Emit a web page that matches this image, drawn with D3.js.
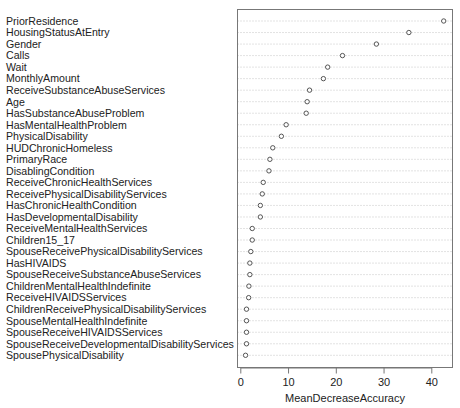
<!DOCTYPE html>
<html>
<head>
<meta charset="utf-8">
<script src="https://cdn.jsdelivr.net/npm/d3@7"></script>
<style>
  body { margin: 0; background: #fff; }
</style>
</head>
<body>
<div id="chart"></div>
<script>
const variables = [
  "PriorResidence", "HousingStatusAtEntry", "Gender", "Calls", "Wait",
  "MonthlyAmount", "ReceiveSubstanceAbuseServices", "Age",
  "HasSubstanceAbuseProblem", "HasMentalHealthProblem", "PhysicalDisability",
  "HUDChronicHomeless", "PrimaryRace", "DisablingCondition",
  "ReceiveChronicHealthServices", "ReceivePhysicalDisabilityServices",
  "HasChronicHealthCondition", "HasDevelopmentalDisability",
  "ReceiveMentalHealthServices", "Children15_17",
  "SpouseReceivePhysicalDisabilityServices", "HasHIVAIDS",
  "SpouseReceiveSubstanceAbuseServices", "ChildrenMentalHealthIndefinite",
  "ReceiveHIVAIDSServices", "ChildrenReceivePhysicalDisabilityServices",
  "SpouseMentalHealthIndefinite", "SpouseReceiveHIVAIDSServices",
  "SpouseReceiveDevelopmentalDisabilityServices", "SpousePhysicalDisability"
];
const meanDecreaseAccuracy = [
  42.6, 35.3, 28.5, 21.4, 18.3,
  17.4, 14.5, 14.0,
  13.8, 9.6, 8.6,
  6.8, 6.2, 6.0,
  4.8, 4.6,
  4.2, 4.2,
  2.5, 2.5,
  2.2, 2.0,
  2.0, 1.8,
  1.75, 1.3,
  1.3, 1.3,
  1.3, 1.1
];
const xTicks = [0, 10, 20, 30, 40];

const W = 460, H = 408;
const box = { left: 237.5, right: 452.5, top: 9.5, bottom: 367.5 };
const font = "'Liberation Sans', Arial, sans-serif";

const svg = d3.select("#chart")
  .append("svg")
    .attr("width", W)
    .attr("height", H);

// scales
const x = d3.scaleLinear()
  .domain([0, 40])
  .range([240.3, 431.3]);

const y = d3.scalePoint()
  .domain(variables)
  .range([21, 355.3]);

const rows = variables.map((v, i) => ({ name: v, value: meanDecreaseAccuracy[i] }));

// dotted guide lines
svg.selectAll("line.guide")
  .data(rows)
  .enter()
  .append("line")
    .attr("class", "guide")
    .attr("x1", box.left)
    .attr("x2", box.right)
    .attr("y1", d => y(d.name))
    .attr("y2", d => y(d.name))
    .attr("stroke", "#b8b8b8")
    .attr("stroke-width", 0.8)
    .attr("stroke-dasharray", "1,2");

// labels
svg.selectAll("text.label")
  .data(rows)
  .enter()
  .append("text")
    .attr("class", "label")
    .attr("x", 6)
    .attr("y", d => y(d.name))
    .attr("dy", "0.36em")
    .attr("font-family", font)
    .attr("font-size", "10.6px")
    .attr("fill", "#222")
    .text(d => d.name);

// points
svg.selectAll("circle")
  .data(rows)
  .enter()
  .append("circle")
    .attr("cx", d => x(d.value))
    .attr("cy", d => y(d.name))
    .attr("r", 2.2)
    .attr("fill", "#fff")
    .attr("stroke", "#444")
    .attr("stroke-width", 0.9);

// frame
svg.append("rect")
  .attr("x", box.left)
  .attr("y", box.top)
  .attr("width", box.right - box.left)
  .attr("height", box.bottom - box.top)
  .attr("fill", "none")
  .attr("stroke", "#777")
  .attr("stroke-width", 1);

// x axis
svg.append("g")
  .attr("transform", `translate(0,${box.bottom})`)
  .call(d3.axisBottom(x).tickValues(xTicks).tickSize(6).tickPadding(5).tickSizeOuter(0))
  .call(g => g.select(".domain").attr("stroke", "#777"))
  .call(g => g.selectAll("line").attr("stroke", "#777"))
  .call(g => g.selectAll("text")
    .attr("font-family", font)
    .attr("font-size", "11px")
    .attr("fill", "#222"));

// x axis title
svg.append("text")
  .attr("x", (box.left + box.right) / 2)
  .attr("y", 402)
  .attr("text-anchor", "middle")
  .attr("font-family", font)
  .attr("font-size", "11px")
  .attr("fill", "#222")
  .text("MeanDecreaseAccuracy");
</script>
</body>
</html>
